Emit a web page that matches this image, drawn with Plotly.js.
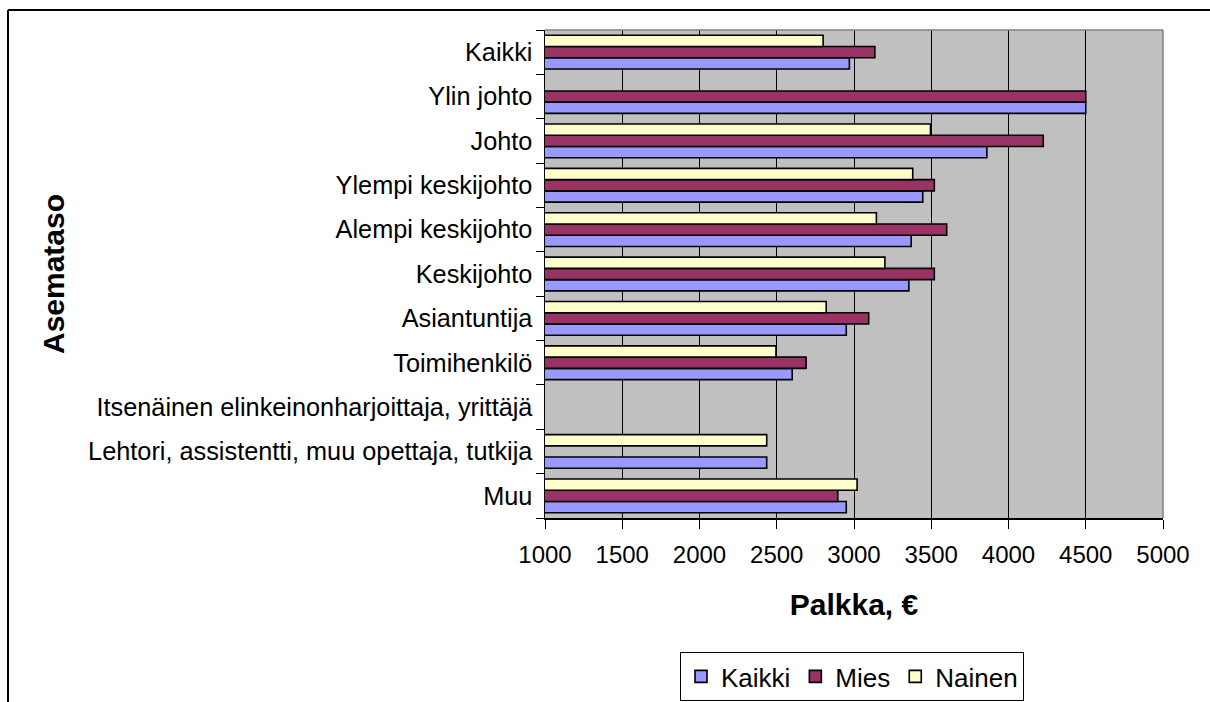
<!DOCTYPE html>
<html>
<head>
<meta charset="utf-8">
<script src="https://cdn.plot.ly/plotly-3.0.1.min.js"></script>
<style>
  html, body { margin: 0; padding: 0; background: #ffffff; }
  #chart { width: 1210px; height: 702px; }
</style>
</head>
<body>
<div id="chart"></div>
<script>
// ---- Data ----
const categories = [
  'Kaikki',
  'Ylin johto',
  'Johto',
  'Ylempi keskijohto',
  'Alempi keskijohto',
  'Keskijohto',
  'Asiantuntija',
  'Toimihenkilö',
  'Itsenäinen elinkeinonharjoittaja, yrittäjä',
  'Lehtori, assistentti, muu opettaja, tutkija',
  'Muu'
];
const seriesNames = ['Kaikki', 'Mies', 'Nainen'];
const kaikkiValues = [2970, 4500, 3860, 3445, 3370, 3355, 2950, 2600, null, 2435, 2950];
const miesValues   = [3135, 4500, 4225, 3520, 3600, 3520, 3095, 2690, null, null, 2895];
const nainenValues = [2800, null, 3495, 3380, 3145, 3200, 2820, 2495, null, 2435, 3020];
const xTickValues = [1000, 1500, 2000, 2500, 3000, 3500, 4000, 4500, 5000];

// ---- Styles ----
const colors = ['#9999FF', '#993366', '#FFFFCC'];
const FONT = 'Liberation Sans, Arial, sans-serif';

const valueSets = [kaikkiValues, miesValues, nainenValues];
const traces = valueSets.map((vals, i) => ({
  type: 'bar',
  orientation: 'h',
  name: seriesNames[i],
  y: categories,
  x: vals,
  marker: { color: colors[i], line: { color: '#000000', width: 1.6 } },
  hoverinfo: 'x+y+name'
}));

// plot-area geometry (pixels)
const W = 1210, H = 702;
const L = 545, R = 47, T = 30, B = 184;
const pw = W - L - R, ph = H - T - B;
const px = v => (v - L) / pw;
const py = v => (H - B - v) / ph;

const layout = {
  width: W,
  height: H,
  margin: { l: L, r: R, t: T, b: B, pad: 0, autoexpand: false },
  paper_bgcolor: '#ffffff',
  plot_bgcolor: '#C0C0C0',
  barmode: 'group',
  bargap: 0.24,
  bargroupgap: 0,
  font: { family: FONT, color: '#000000', size: 24 },
  showlegend: true,
  legend: {
    orientation: 'h',
    x: px(852), xanchor: 'center',
    y: py(652), yanchor: 'top',
    bgcolor: '#ffffff',
    bordercolor: '#000000',
    borderwidth: 1,
    font: { family: FONT, size: 26, color: '#000000' },
    traceorder: 'normal',
    itemwidth: 30,
    tracegroupgap: 0
  },
  xaxis: {
    range: [1000, 5000],
    tickmode: 'array',
    tickvals: xTickValues,
    ticktext: xTickValues.map(String),
    showgrid: true,
    gridcolor: '#000000',
    gridwidth: 1,
    zeroline: false,
    showline: true,
    linecolor: '#000000',
    linewidth: 1.5,
    ticks: 'outside',
    ticklen: 9,
    tickcolor: '#000000',
    tickwidth: 1,
    ticklabelstandoff: 6,
    tickfont: { family: FONT, size: 24, color: '#000000' },
    automargin: false,
    title: {
      text: 'Palkka, €',
      font: { family: FONT, size: 30, color: '#000000', weight: 'bold' },
      standoff: 26
    },
    fixedrange: true
  },
  yaxis: {
    type: 'category',
    categoryorder: 'array',
    categoryarray: categories.slice().reverse(),
    tickson: 'boundaries',
    ticks: 'outside',
    ticklen: 8,
    tickcolor: '#000000',
    tickwidth: 1,
    showgrid: false,
    zeroline: false,
    showline: true,
    linecolor: '#000000',
    linewidth: 1.5,
    ticklabelstandoff: 6,
    tickfont: { family: FONT, size: 25.3, color: '#000000' },
    automargin: false,
    title: {
      text: 'Asemataso',
      font: { family: FONT, size: 30, color: '#000000', weight: 'bold' },
      standoff: 14
    },
    fixedrange: true
  },
  shapes: [
    // grey frame on top and right of plot area
    { type: 'line', xref: 'paper', yref: 'paper', x0: 0, x1: 1, y0: 1, y1: 1,
      line: { color: '#808080', width: 1.5 }, layer: 'above' },
    { type: 'line', xref: 'paper', yref: 'paper', x0: 1, x1: 1, y0: 0, y1: 1,
      line: { color: '#808080', width: 1.5 }, layer: 'above' },
    // outer chart frame (top and left edges visible)
    { type: 'line', xref: 'paper', yref: 'paper', x0: px(8), x1: px(1215), y0: py(10), y1: py(10),
      line: { color: '#000000', width: 2 }, layer: 'above' },
    { type: 'line', xref: 'paper', yref: 'paper', x0: px(8), x1: px(8), y0: py(10), y1: py(710),
      line: { color: '#000000', width: 2 }, layer: 'above' }
  ]
};

Plotly.newPlot('chart', traces, layout, { displayModeBar: false, staticPlot: true });
</script>
</body>
</html>
